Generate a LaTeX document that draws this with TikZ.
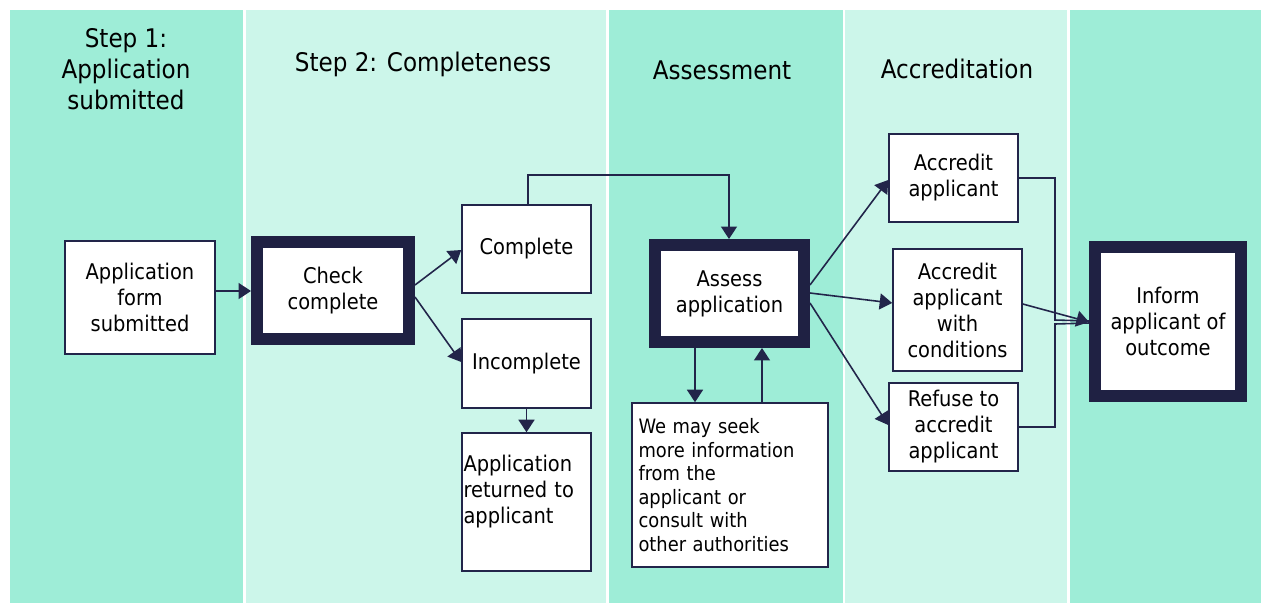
\documentclass[tikz,border=0pt]{standalone}
\usepackage{fontspec}
\setmainfont{DejaVu Sans Condensed}
\usetikzlibrary{arrows.meta}

\definecolor{laneDark}{HTML}{9EEDD7}
\definecolor{laneLight}{HTML}{CCF6EA}
\definecolor{navy}{HTML}{22254A}

\begin{document}
\begin{tikzpicture}[
    x=0.02cm, y=-0.02cm,
    heading/.style={
        font=\fontsize{14.6}{17.6}\selectfont,
        align=center, inner sep=0pt
    },
    box/.style={
        rectangle, draw=navy, fill=white, line width=0.9pt,
        font=\fontsize{12.3}{14.8}\selectfont,
        align=center, inner sep=2pt
    },
    keybox/.style={
        box, line width=0.24cm, draw=navy!90!black
    },
    flow/.style={
        draw=navy, line width=0.9pt,
        -{Triangle[length=0.25cm,width=0.32cm]}
    },
    link/.style={draw=navy, line width=0.9pt}
]

\useasboundingbox (0,0) rectangle (1261,603);

%% Swim lanes (left to right)
\fill[laneDark]  (10,10)   rectangle (243,603);
\fill[laneLight] (246,10)  rectangle (606,603);
\fill[laneDark]  (609,10)  rectangle (843,603);
\fill[laneLight] (845,10)  rectangle (1067,603);
\fill[laneDark]  (1070,10) rectangle (1261,603);

%% Lane headings
\node[heading] (H1) at (126,69)  {Step 1:\\Application\\submitted};
\node[heading] (H2) at (423,64)  {Step 2: Completeness};
\node[heading] (H3) at (722,70)  {Assessment};
\node[heading] (H4) at (957,69)  {Accreditation};

%% Process boxes
\node[box, minimum width=3cm, minimum height=2.26cm]
    (form) at (140,297.5) {Application\\form\\submitted};
\node[keybox, minimum width=3.04cm, minimum height=1.94cm]
    (check) at (333,290.5) {Check\\complete};
\node[box, minimum width=2.58cm, minimum height=1.76cm]
    (done) at (526.5,249) {Complete};
\node[box, minimum width=2.58cm, minimum height=1.78cm]
    (notdone) at (526.5,363.5) {Incomplete};
\node[box, minimum width=2.58cm, minimum height=2.76cm,
      text width=2.52cm, align=left, inner sep=1pt]
    (returned) at (526.5,502) {Application\\returned to\\applicant\\\mbox{}};
\node[keybox, minimum width=2.98cm, minimum height=1.94cm]
    (assess) at (729.5,293.5) {Assess\\application};
\node[box, minimum width=3.92cm, minimum height=3.28cm,
      text width=3.66cm, align=left,
      font=\fontsize{11.3}{13.4}\selectfont]
    (seek) at (730,485) {We may seek\\more information\\from the\\applicant or\\consult with\\other authorities};
\node[box, minimum width=2.58cm, minimum height=1.76cm]
    (accredit) at (953.5,178) {Accredit\\applicant};
\node[box, minimum width=2.58cm, minimum height=2.44cm]
    (cond) at (957.5,310) {Accredit\\applicant\\with\\conditions};
\node[box, minimum width=2.58cm, minimum height=1.76cm]
    (refuse) at (953.5,427) {Refuse to\\accredit\\applicant};
\node[keybox, minimum width=2.92cm, minimum height=2.98cm]
    (inform) at (1168,321.5) {Inform\\applicant of\\outcome};

%% Connectors
\draw[flow] (form.east |- 0,291) -- (check.west |- 0,291);
\draw[flow] (check.east |- 0,285) -- (done.west |- 0,250);
\draw[flow] (check.east |- 0,297) -- (notdone.west |- 0,362);
\draw[flow] (done.north -| 528,0) |- (729,175) -- (assess.north -| 729,0);
\draw[flow] (notdone.south) -- (returned.north);
\draw[flow] (assess.south -| 695,0) -- (seek.north -| 695,0);
\draw[flow] (seek.north -| 762,0) -- (assess.south -| 762,0);
\draw[flow] (assess.east |- 0,285) -- (accredit.west |- 0,180);
\draw[flow] (assess.east |- 0,293) -- (cond.west |- 0,303);
\draw[flow] (assess.east |- 0,303) -- (refuse.west |- 0,425);
\draw[link] (accredit.east) -| (1055,320) -- (inform.west |- 0,321);
\draw[link] (refuse.east) -| (1055,324) -- (inform.west |- 0,323);
\draw[flow] (cond.east |- 0,304) -- (inform.west |- 0,322);

\end{tikzpicture}
\end{document}
